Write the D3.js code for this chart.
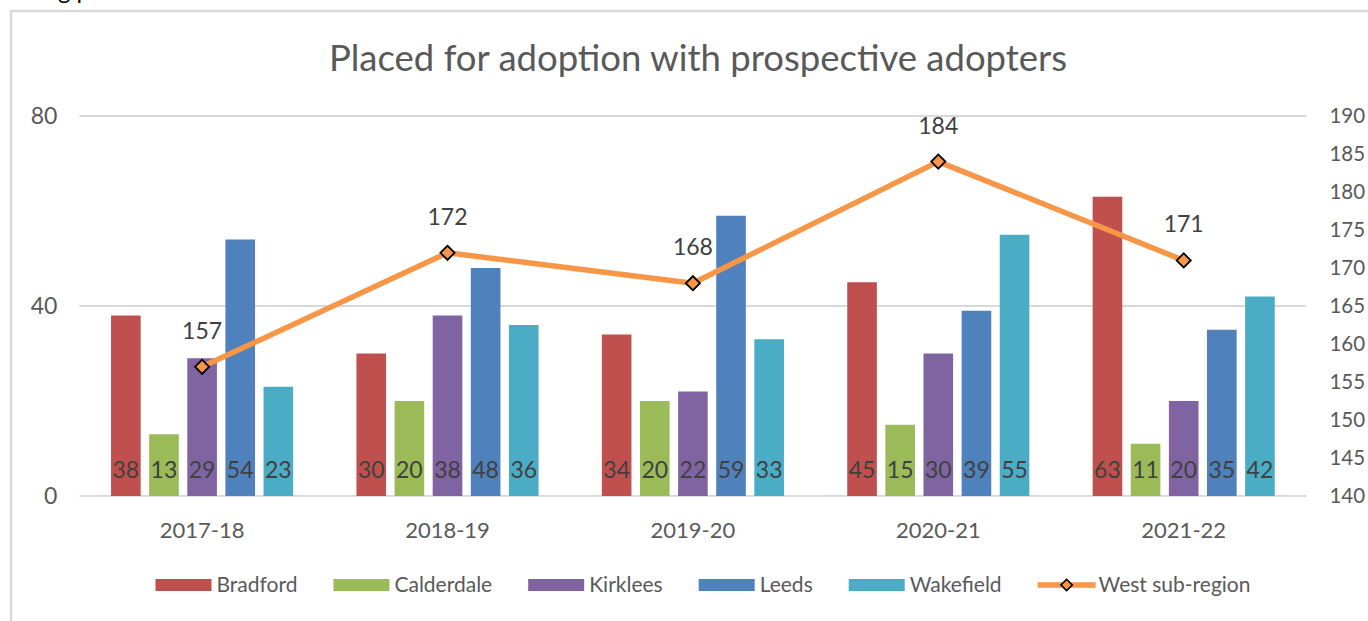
<!DOCTYPE html>
<html>
<head>
<meta charset="utf-8">
<script src="https://cdn.jsdelivr.net/npm/d3@7"></script>
<style>
  body { margin: 0; background: #fff; }
  svg { display: block; font-family: Lato, "Open Sans", sans-serif; }
</style>
</head>
<body>
<div id="chart-area"></div>
<script>
// Data
var years = ['2017-18', '2018-19', '2019-20', '2020-21', '2021-22'];
var areas = ['Bradford', 'Calderdale', 'Kirklees', 'Leeds', 'Wakefield'];
var bradford   = [38, 30, 34, 45, 63];
var calderdale = [13, 20, 20, 15, 11];
var kirklees   = [29, 38, 22, 30, 20];
var leeds      = [54, 48, 59, 39, 35];
var wakefield  = [23, 36, 33, 55, 42];
var westTotal  = [157, 172, 168, 184, 171];
var leftTicks  = [0, 40, 80];
var rightTicks = [140, 145, 150, 155, 160, 165, 170, 175, 180, 185, 190];

var barColors = ['#C0504D', '#9BBB59', '#8064A2', '#4F81BD', '#4BACC6'];
var lineColor = '#F79646';

var seriesValues = [bradford, calderdale, kirklees, leeds, wakefield];

// Size
var W = 1368, H = 621;
var plot = {left: 79.4, right: 1306.4, top: 116, bottom: 496};

var svg = d3.select('#chart-area')
    .append('svg')
        .attr('width', W)
        .attr('height', H);

// cropped text from the page above the chart
svg.append('text')
    .attr('x', 58)
    .attr('y', -1)
    .attr('font-size', '24px')
    .attr('fill', '#000')
    .text('g p');

// chart border
svg.append('rect')
    .attr('x', 11)
    .attr('y', 11)
    .attr('width', 1500)
    .attr('height', 800)
    .attr('fill', 'none')
    .attr('stroke', '#d9d9d9')
    .attr('stroke-width', 2.5);

// Scales
var x0 = d3.scaleBand()
    .domain(years)
    .range([plot.left, plot.right])
    .padding(0);

var x1 = d3.scaleBand()
    .domain(areas)
    .range([0, x0.bandwidth()])
    .paddingInner(0.223)
    .paddingOuter(0.83);

var y = d3.scaleLinear()
    .domain([0, 80])
    .range([plot.bottom, plot.top]);

var y2 = d3.scaleLinear()
    .domain([140, 190])
    .range([plot.bottom, plot.top]);

// Gridlines
svg.append('g')
    .selectAll('line')
    .data(leftTicks)
    .enter()
    .append('line')
        .attr('x1', plot.left)
        .attr('x2', plot.right)
        .attr('y1', function(d){ return y(d); })
        .attr('y2', function(d){ return y(d); })
        .attr('stroke', '#d9d9d9')
        .attr('stroke-width', 2);

// Left axis
var yAxisCall = d3.axisLeft(y)
    .tickValues(leftTicks)
    .tickSize(0)
    .tickPadding(22);
var yAxis = svg.append('g')
    .attr('transform', 'translate(' + plot.left + ',0)')
    .call(yAxisCall);
yAxis.select('.domain').remove();
yAxis.selectAll('text')
    .attr('font-size', '23px')
    .attr('font-family', 'Lato')
    .attr('fill', '#595959');

// Right axis
var y2AxisCall = d3.axisRight(y2)
    .tickValues(rightTicks)
    .tickSize(0)
    .tickPadding(23);
var y2Axis = svg.append('g')
    .attr('transform', 'translate(' + plot.right + ',0)')
    .call(y2AxisCall);
y2Axis.select('.domain').remove();
y2Axis.selectAll('text')
    .attr('font-size', '20.5px')
    .attr('font-family', 'Lato')
    .attr('fill', '#595959');

// X axis labels
var xAxisCall = d3.axisBottom(x0)
    .tickSize(0)
    .tickPadding(26);
var xAxis = svg.append('g')
    .attr('transform', 'translate(0,' + plot.bottom + ')')
    .call(xAxisCall);
xAxis.select('.domain').remove();
xAxis.selectAll('text')
    .attr('font-size', '22px')
    .attr('font-family', 'Lato')
    .attr('fill', '#595959');

// Bars
var groups = svg.append('g')
    .selectAll('g')
    .data(years)
    .enter()
    .append('g')
        .attr('transform', function(d){ return 'translate(' + x0(d) + ',0)'; });

var cells = groups.selectAll('g')
    .data(function(d, i){
        return areas.map(function(a, j){ return {area: a, value: seriesValues[j][i], color: barColors[j]}; });
    })
    .enter()
    .append('g');

cells.append('rect')
    .attr('x', function(d){ return x1(d.area); })
    .attr('width', x1.bandwidth())
    .attr('y', function(d){ return y(d.value); })
    .attr('height', function(d){ return y(0) - y(d.value); })
    .attr('fill', function(d){ return d.color; });

cells.append('text')
    .attr('x', function(d){ return x1(d.area) + x1.bandwidth() / 2; })
    .attr('y', y(0) - 18)
    .attr('text-anchor', 'middle')
    .attr('font-size', '23px')
    .attr('fill', '#404040')
    .text(function(d){ return d.value; });

// Line
var line = d3.line()
    .x(function(d, i){ return x0(years[i]) + x0.bandwidth() / 2; })
    .y(function(d){ return y2(d); });

svg.append('path')
    .datum(westTotal)
    .attr('d', line)
    .attr('fill', 'none')
    .attr('stroke', lineColor)
    .attr('stroke-width', 5.5)
    .attr('stroke-linejoin', 'round')
    .attr('stroke-linecap', 'round');

var points = svg.append('g')
    .selectAll('g')
    .data(westTotal)
    .enter()
    .append('g')
        .attr('transform', function(d, i){
            return 'translate(' + (x0(years[i]) + x0.bandwidth() / 2) + ',' + y2(d) + ')';
        });

points.append('rect')
    .attr('x', -5)
    .attr('y', -5)
    .attr('width', 10)
    .attr('height', 10)
    .attr('transform', 'rotate(45)')
    .attr('fill', lineColor)
    .attr('stroke', '#000')
    .attr('stroke-width', 1.8);

points.append('text')
    .attr('y', -28)
    .attr('text-anchor', 'middle')
    .attr('font-size', '23px')
    .attr('fill', '#404040')
    .text(function(d){ return d; });

// Title
svg.append('text')
    .attr('x', 698)
    .attr('y', 71)
    .attr('text-anchor', 'middle')
    .attr('font-size', '36.5px')
    .attr('fill', '#595959')
    .text('Placed for adoption with prospective adopters');

// Legend
var legendItems = areas.map(function(a, j){ return {name: a, color: barColors[j], type: 'bar'}; });
legendItems.push({name: 'West sub-region', color: lineColor, type: 'line'});

var legend = svg.append('g');
var lx = 0;
legendItems.forEach(function(item){
    var gItem = legend.append('g').attr('transform', 'translate(' + lx + ',0)');
    if (item.type === 'bar') {
        gItem.append('rect')
            .attr('x', 0)
            .attr('y', -6)
            .attr('width', 56)
            .attr('height', 12)
            .attr('fill', item.color);
    } else {
        gItem.append('line')
            .attr('x1', 0).attr('x2', 58)
            .attr('y1', 0).attr('y2', 0)
            .attr('stroke', item.color)
            .attr('stroke-width', 5.5);
        gItem.append('rect')
            .attr('x', -4).attr('y', -4)
            .attr('width', 8).attr('height', 8)
            .attr('transform', 'translate(29,0) rotate(45)')
            .attr('fill', item.color)
            .attr('stroke', '#000')
            .attr('stroke-width', 1.6);
    }
    var t = gItem.append('text')
        .attr('x', 61)
        .attr('y', 7)
        .attr('font-size', '21px')
        .attr('fill', '#595959')
        .text(item.name);
    lx += 61 + t.node().getComputedTextLength() + 36;
});
lx -= 36;
legend.attr('transform', 'translate(' + (703 - lx / 2) + ',585)');
</script>
</body>
</html>
